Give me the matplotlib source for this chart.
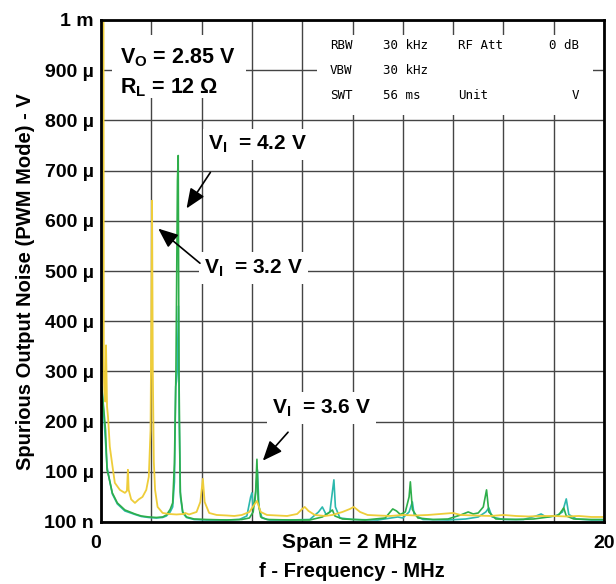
import numpy as np
import matplotlib
matplotlib.use("Agg")
import matplotlib.pyplot as plt
from matplotlib.patches import Rectangle

plt.rcParams['font.family'] = ['Liberation Sans', 'DejaVu Sans']
plt.rcParams['font.weight'] = 'bold'
plt.rcParams['axes.labelweight'] = 'bold'
plt.rcParams['mathtext.fontset'] = 'custom'
plt.rcParams['mathtext.rm'] = 'Liberation Sans:bold'
plt.rcParams['mathtext.it'] = 'Liberation Sans:bold'
plt.rcParams['mathtext.bf'] = 'Liberation Sans:bold'

# spectrum traces: frequency in MHz, noise in uV
f_32 = [0.00, 0.10, 0.11, 0.13, 0.17, 0.20, 0.24, 0.28, 0.35, 0.44, 0.55, 0.75,
        0.95, 1.03, 1.07, 1.10, 1.20, 1.35, 1.50, 1.65, 1.80, 1.90, 1.97, 2.00,
        2.03, 2.06, 2.10, 2.15, 2.25, 2.45, 2.70, 3.00, 3.30, 3.35, 3.50, 3.80,
        3.95, 4.05, 4.12, 4.30, 4.60, 5.00, 5.30, 5.60, 5.90, 6.10, 6.20, 6.35,
        6.60, 7.00, 7.40, 7.80, 8.00, 8.10, 8.25, 8.50, 8.90, 9.20, 9.60, 9.90,
        10.05, 10.30, 10.60, 11.00, 11.50, 12.00, 12.50, 13.00, 13.50, 14.00,
        14.30, 14.80, 15.50, 16.00, 16.50, 17.00, 17.50, 18.00, 18.50, 19.00,
        19.50, 20.00]
v_32 = [1000, 1000, 300, 263, 240, 352, 230, 209, 150, 117, 78, 64,
        58, 62, 104, 64, 45, 38, 45, 50, 64, 90, 183, 400,
        640, 300, 120, 64, 30, 18, 16, 15, 16, 18, 15, 20,
        40, 86, 40, 18, 14, 13, 12, 14, 20, 35, 42, 20,
        14, 13, 12, 16, 26, 30, 22, 14, 12, 14, 20, 26,
        30, 20, 14, 13, 12, 14, 13, 14, 16, 18,
        14, 13, 12, 14, 12, 11, 12, 12, 11, 12,
        10, 10]

f_42 = [0.00, 0.04, 0.10, 0.18, 0.24, 0.32, 0.45, 0.65, 0.95, 1.35, 1.60, 1.90,
        2.20, 2.45, 2.60, 2.75, 2.85, 2.92, 2.98, 3.04, 3.07, 3.10, 3.15, 3.25,
        3.40, 3.70, 4.20, 5.00, 5.60, 5.90, 6.05, 6.15, 6.20, 6.25, 6.35, 6.60,
        7.50, 8.30, 8.80, 9.05, 9.20, 9.30, 9.60, 10.50, 11.30, 11.60, 11.75,
        11.90, 12.10, 12.25, 12.30, 12.38, 12.60, 13.20, 13.80, 14.30, 14.60,
        14.80, 15.00, 15.20, 15.33, 15.42, 15.70, 16.50, 17.20, 17.80, 18.20,
        18.40, 18.50, 18.80, 19.50, 20.00]
v_42 = [150, 263, 230, 183, 104, 88, 58, 38, 24, 16, 12, 10,
        9, 10, 14, 25, 38, 117, 300, 680, 730, 300, 60, 20,
        10, 6, 5, 4, 5, 8, 20, 60, 125, 40, 10, 5,
        4, 4, 10, 18, 24, 12, 6, 4, 8, 26, 22,
        15, 20, 50, 80, 25, 8, 5, 6, 14, 20,
        16, 18, 30, 64, 20, 6, 5, 6, 10, 14,
        28, 12, 6, 5, 5]

f_36 = [0.00, 0.02, 0.05, 0.10, 0.18, 0.24, 0.32, 0.45, 0.65, 0.95, 1.35, 1.60,
        1.90, 2.20, 2.45, 2.60, 2.75, 2.85, 2.92, 2.97, 3.00, 3.03, 3.08, 3.11,
        3.16, 3.25, 3.40, 3.70, 4.20, 5.00, 5.50, 5.80, 5.95, 6.00, 6.05, 6.12,
        6.22, 6.28, 6.40, 6.70, 7.50, 8.30, 8.65, 8.80, 8.95, 9.10, 9.20, 9.26,
        9.32, 9.50, 10.00, 11.00, 11.80, 12.00, 12.25, 12.38, 12.45, 12.80,
        13.80, 14.50, 15.00, 15.30, 15.42, 15.55, 16.00, 16.80, 17.30, 17.50,
        17.70, 18.10, 18.35, 18.50, 18.60, 18.90, 19.50, 20.00]
v_36 = [250, 270, 260, 220, 160, 110, 88, 56, 36, 22, 15, 11,
        9, 8, 9, 12, 20, 30, 80, 270, 280, 300, 430, 200,
        50, 18, 9, 5, 4, 4, 5, 12, 50, 58, 30, 40,
        104, 30, 8, 4, 4, 5, 20, 30, 15, 20, 60, 84,
        30, 8, 5, 4, 10, 8, 20, 40, 15, 5,
        4, 6, 10, 20, 28, 10, 5, 5, 12, 16,
        10, 12, 20, 46, 15, 6, 4, 4]

y_ticks = [0, 100, 200, 300, 400, 500, 600, 700, 800, 900, 1000]
y_labels = ['100 n', '100 µ', '200 µ', '300 µ', '400 µ', '500 µ',
            '600 µ', '700 µ', '800 µ', '900 µ', '1 m']
x_ticks = [0, 2, 4, 6, 8, 10, 12, 14, 16, 18, 20]
x_labels = ['0', '', '', '', '', '', '', '', '', '', '20']

fig = plt.figure(figsize=(6.16, 5.84), dpi=100)
ax = fig.add_axes([101/616, 62/584, 503/616, 502/584])

ax.plot(f_36, v_36, color='#2bb8ad', lw=1.2, zorder=3)
ax.plot(f_42, v_42, color='#2eae4a', lw=1.2, zorder=4)
ax.plot(f_32, v_32, color='#eecd3a', lw=1.3, zorder=5)

ax.set_xlim(0, 20)
ax.set_ylim(0, 1000)
ax.set_xticks(x_ticks)
ax.set_xticklabels(x_labels, fontsize=14)
ax.get_xticklabels()[0].set_horizontalalignment('right')
ax.set_yticks(y_ticks)
ax.set_yticklabels(y_labels, fontsize=14)
ax.tick_params(axis='y', length=0, pad=5)
ax.tick_params(axis='x', length=0, pad=9)
ax.grid(True, color='#444444', lw=1.0)
ax.set_axisbelow(True)
for s in ax.spines.values():
    s.set_linewidth(2)
    s.set_zorder(10)

ax.set_ylabel('Spurious Output Noise (PWM Mode) - V', fontsize=14.5)
ax.yaxis.set_label_coords(-0.131, 0.478)
ax.set_xlabel('f - Frequency - MHz', fontsize=14.5)
ax.xaxis.set_label_coords(0.499, -0.080)
fig.text(350/616, 1 - 542/584, 'Span = 2 MHz', fontsize=15, ha='center', va='center')

# condition box top left
ax.add_patch(Rectangle((0.45, 845), 5.3, 125, fc='white', ec='none', zorder=2))
ax.text(0.75, 925, r'$\mathrm{V_O}$ = 2.85 V', fontsize=15.5, va='center', zorder=6)
ax.text(0.75, 866, r'$\mathrm{R_L}$ = 12 Ω', fontsize=15.5, va='center', zorder=6)

# analyser settings box
ax.add_patch(Rectangle((8.6, 811), 10.95, 159, fc='white', ec='none', zorder=2))
mono = dict(family='DejaVu Sans Mono', fontweight='normal', fontsize=9, va='center', zorder=6)
rows = [950, 900, 850]
ax.text(9.1, rows[0], 'RBW', **mono)
ax.text(11.2, rows[0], '30 kHz', **mono)
ax.text(14.2, rows[0], 'RF Att', **mono)
ax.text(19.0, rows[0], '0 dB', ha='right', **mono)
ax.text(9.1, rows[1], 'VBW', **mono)
ax.text(11.2, rows[1], '30 kHz', **mono)
ax.text(9.1, rows[2], 'SWT', **mono)
ax.text(11.2, rows[2], '56 ms', **mono)
ax.text(14.2, rows[2], 'Unit', **mono)
ax.text(19.0, rows[2], 'V', ha='right', **mono)

# input voltage callouts
box = dict(boxstyle='square,pad=0.25', fc='white', ec='none')
arrow = dict(arrowstyle='-|>,head_width=0.5,head_length=1.2', color='black', lw=1.2)
ax.annotate('', xy=(3.34, 620), xytext=(4.41, 701), arrowprops=arrow, zorder=7)
ax.text(4.25, 752, r'$\mathrm{V_I}$  = 4.2 V', fontsize=15, va='center', bbox=box, zorder=6)
ax.annotate('', xy=(2.19, 588), xytext=(4.02, 512), arrowprops=arrow, zorder=7)
ax.text(4.1, 506, r'$\mathrm{V_I}$  = 3.2 V', fontsize=15, va='center', bbox=box, zorder=6)
ax.annotate('', xy=(6.36, 118), xytext=(7.51, 183), arrowprops=arrow, zorder=7)
ax.text(6.8, 227, r'$\mathrm{V_I}$  = 3.6 V', fontsize=15, va='center', bbox=box, zorder=6)

fig.savefig('out.png', dpi=100)
